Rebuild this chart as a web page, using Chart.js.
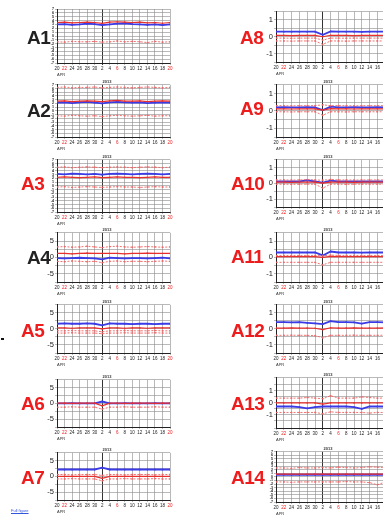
<!DOCTYPE html>
<html><head><meta charset="utf-8">
<script src="https://cdn.jsdelivr.net/npm/chart.js@4/dist/chart.umd.min.js"></script>
<style>
html,body{margin:0;padding:0;background:#fff;width:383px;height:517px;overflow:hidden;position:relative;font-family:"Liberation Sans",Arial,sans-serif}
canvas{position:absolute}
.lab{position:absolute;font-weight:bold;font-size:19px;line-height:19px;font-family:"Liberation Sans",Arial,sans-serif;letter-spacing:-0.5px}
</style></head><body>
<script>
// ---- data ----
const xTickLabels = ['20','22','24','26','28','30','2','4','6','8','10','12','14','16','18','20'];
const redTickIdx = [1, 8, 15];
const monthBreakIdx = 6;
const panelNames = ['A1','A2','A3','A4','A5','A6','A7','A8','A9','A10','A11','A12','A13','A14'];
const panelTitle = '2013';
const axisMonth = 'APR';

const a1Blue   = [3.0,3.1,2.9,3.0,3.2,3.1,2.8,3.0,3.2,3.3,3.1,3.0,2.9,3.0,2.8,3.0];
const a1Red    = [3.5,3.6,3.4,3.5,3.6,3.5,3.3,3.6,3.7,3.6,3.5,3.6,3.4,3.5,3.3,3.5];
const a1PinkLo = [-1.5,-1.6,-1.4,-1.5,-1.5,-1.4,-1.6,-1.5,-1.3,-1.5,-1.4,-1.5,-1.7,-1.4,-1.6,-1.5];

const a2Blue   = [2.2,2.3,2.1,2.3,2.4,2.2,2.0,2.3,2.4,2.3,2.2,2.3,2.1,2.2,2.3,2.2];
const a2Red    = [2.6,2.7,2.5,2.6,2.7,2.6,2.5,2.7,2.8,2.6,2.6,2.7,2.5,2.6,2.7,2.6];
const a2PinkHi = [6.3,6.4,6.2,6.3,6.3,6.4,6.2,6.3,6.4,6.3,6.2,6.3,6.4,6.3,6.2,6.3];
const a2PinkLo = [-1.3,-1.4,-1.2,-1.3,-1.4,-1.3,-1.5,-1.3,-1.2,-1.3,-1.4,-1.3,-1.2,-1.4,-1.3,-1.3];

const a3Blue   = [3.2,3.1,3.3,3.2,3.1,3.2,3.0,3.2,3.3,3.2,3.1,3.2,3.3,3.2,3.1,3.2];
const a3Red    = [2.3,2.4,2.3,2.2,2.3,2.4,2.2,2.3,2.4,2.3,2.3,2.2,2.3,2.4,2.3,2.3];
const a3PinkHi = [5.0,5.1,4.9,5.0,5.1,5.0,4.9,5.0,5.1,5.0,4.9,5.0,5.1,5.0,4.9,5.0];
const a3PinkLo = [-0.3,-0.2,-0.4,-0.3,-0.2,-0.3,-0.4,-0.3,-0.2,-0.3,-0.3,-0.4,-0.3,-0.2,-0.3,-0.3];

const a4Blue   = [-0.2,-0.3,-0.2,-0.1,-0.2,-0.3,-0.6,-0.1,-0.2,-0.3,-0.2,-0.2,-0.3,-0.2,-0.1,-0.3];
const a4Red    = [1.2,1.2,1.1,1.2,1.3,1.2,1.2,1.2,1.2,1.1,1.2,1.2,1.3,1.2,1.2,1.2];
const a4PinkHi = [3.2,3.3,3.1,3.2,3.4,3.2,3.0,3.3,3.4,3.2,3.1,3.2,3.3,3.2,3.1,3.2];
const a4PinkLo = [-1.2,-1.3,-1.1,-1.2,-1.3,-1.2,-1.6,-1.2,-1.1,-1.3,-1.2,-1.2,-1.3,-1.2,-1.1,-1.2];

const a5Blue   = [1.6,1.7,1.6,1.6,1.7,1.6,1.1,1.7,1.6,1.6,1.5,1.6,1.6,1.5,1.6,1.6];
const a5Red    = [0.3,0.3,0.2,0.3,0.3,0.3,0.0,0.3,0.3,0.2,0.3,0.3,0.2,0.3,0.3,0.3];
const a5PinkMid= [-0.6,-0.6,-0.5,-0.6,-0.6,-0.6,-0.9,-0.6,-0.6,-0.5,-0.6,-0.6,-0.6,-0.5,-0.6,-0.6];
const a5PinkLo = [-1.3,-1.3,-1.2,-1.3,-1.3,-1.3,-1.5,-1.3,-1.3,-1.2,-1.3,-1.3,-1.3,-1.2,-1.3,-1.3];

const a6Blue   = [0.0,0.0,0.1,0.0,0.0,0.0,0.6,0.0,0.0,0.1,0.0,0.0,0.0,0.1,0.0,0.0];
const a6Red    = [0.1,0.1,0.0,0.1,0.1,0.1,-0.8,0.1,0.1,0.0,0.1,0.1,0.1,0.0,0.1,0.1];
const a6PinkLo = [-1.2,-1.2,-1.1,-1.2,-1.2,-1.2,-1.8,-1.2,-1.2,-1.1,-1.2,-1.2,-1.2,-1.1,-1.2,-1.2];

const a7Blue   = [2.2,2.2,2.2,2.2,2.2,2.2,2.8,2.2,2.2,2.2,2.2,2.2,2.2,2.2,2.2,2.2];
const a7Red    = [0.0,0.0,0.0,0.0,0.0,0.0,-0.6,0.0,0.0,0.0,0.0,0.0,0.0,0.0,0.0,0.0];
const a7PinkHi = [0.6,0.6,0.5,0.6,0.6,0.6,0.3,0.6,0.6,0.5,0.6,0.6,0.6,0.5,0.6,0.6];
const a7PinkLo = [-0.8,-0.8,-0.7,-0.8,-0.8,-0.8,-1.4,-0.8,-0.8,-0.7,-0.8,-0.8,-0.8,-0.7,-0.8,-0.8];

const a8Blue   = [0.3,0.3,0.3,0.3,0.3,0.3,0.12,0.32,0.3,0.3,0.3,0.29,0.3,0.3,0.3,0.3];
const a8Red    = [0.08,0.08,0.07,0.08,0.08,0.08,0.0,0.09,0.08,0.08,0.07,0.08,0.08,0.08,0.08,0.08];
const a8PinkHi = [-0.08,-0.08,-0.09,-0.08,-0.08,-0.08,-0.2,-0.08,-0.08,-0.09,-0.08,-0.08,-0.08,-0.08,-0.08,-0.08];
const a8PinkLo = [-0.25,-0.25,-0.26,-0.25,-0.25,-0.25,-0.45,-0.25,-0.25,-0.26,-0.25,-0.25,-0.25,-0.25,-0.25,-0.25];

const a9Blue   = [0.2,0.21,0.2,0.2,0.21,0.2,0.05,0.24,0.2,0.2,0.21,0.2,0.2,0.21,0.2,0.2];
const a9Red    = [0.12,0.12,0.11,0.12,0.12,0.12,0.05,0.13,0.12,0.12,0.11,0.12,0.12,0.12,0.12,0.12];
const a9PinkHi = [0.3,0.3,0.29,0.3,0.3,0.3,0.35,0.3,0.3,0.3,0.29,0.3,0.3,0.3,0.3,0.3];
const a9PinkLo = [-0.05,-0.05,-0.06,-0.05,-0.05,-0.05,-0.25,-0.05,-0.05,-0.06,-0.05,-0.05,-0.05,-0.05,-0.05,-0.05];

const a10Blue   = [0.12,0.13,0.12,0.12,0.2,0.12,0.05,0.18,0.12,0.12,0.13,0.12,0.12,0.12,0.12,0.12];
const a10Red    = [0.08,0.08,0.07,0.08,0.08,0.08,0.02,0.08,0.08,0.08,0.07,0.08,0.08,0.08,0.08,0.08];
const a10PinkHi = [0.22,0.22,0.21,0.22,0.24,0.22,0.2,0.25,0.22,0.22,0.21,0.22,0.22,0.22,0.22,0.22];
const a10PinkLo = [-0.05,-0.05,-0.06,-0.05,-0.05,-0.05,-0.3,-0.05,-0.05,-0.06,-0.05,-0.05,-0.05,-0.05,-0.05,-0.05];

const a11Blue   = [0.3,0.3,0.3,0.3,0.3,0.3,0.12,0.36,0.3,0.3,0.3,0.29,0.3,0.3,0.3,0.3];
const a11Red    = [0.05,0.05,0.05,0.05,0.05,0.05,0.0,0.06,0.05,0.05,0.05,0.05,0.05,0.05,0.05,0.05];
const a11PinkHi = [0.12,0.12,0.12,0.12,0.12,0.12,0.1,0.14,0.12,0.12,0.12,0.12,0.12,0.12,0.12,0.12];
const a11PinkLo = [-0.3,-0.3,-0.3,-0.3,-0.3,-0.3,-0.45,-0.3,-0.3,-0.3,-0.3,-0.3,-0.3,-0.3,-0.3,-0.3];

const a12Blue   = [0.42,0.42,0.41,0.42,0.38,0.35,0.3,0.48,0.42,0.42,0.41,0.33,0.42,0.42,0.41,0.42];
const a12Red    = [0.05,0.05,0.06,0.05,0.05,0.04,-0.05,0.07,0.05,0.05,0.06,0.05,0.05,0.05,0.06,0.05];
const a12PinkLo = [-0.4,-0.4,-0.39,-0.4,-0.4,-0.42,-0.55,-0.4,-0.4,-0.4,-0.39,-0.4,-0.4,-0.4,-0.39,-0.4];

const a13Blue   = [-0.3,-0.3,-0.3,-0.35,-0.45,-0.35,-0.3,-0.3,-0.3,-0.3,-0.35,-0.5,-0.3,-0.3,-0.3,-0.3];
const a13Red    = [0.0,0.0,0.0,0.0,0.0,0.0,-0.1,0.0,0.0,0.0,0.0,0.0,0.0,0.0,0.0,0.0];
const a13PinkHi = [0.4,0.4,0.4,0.4,0.45,0.4,0.35,0.6,0.4,0.4,0.4,0.5,0.45,0.4,0.4,0.4];
const a13PinkLo = [-0.8,-0.8,-0.8,-0.8,-0.8,-0.8,-0.9,-0.75,-0.8,-0.8,-0.8,-0.8,-0.85,-0.8,-0.8,-0.8];

const a14Blue   = [0.6,0.6,0.6,0.6,0.6,0.6,0.6,0.6,0.6,0.6,0.6,0.6,0.6,0.6,0.6,0.6];
const a14Red    = [0.8,0.8,0.8,0.8,0.8,0.8,0.8,0.8,0.8,0.8,0.8,0.8,0.8,0.8,0.8,0.8];
const a14PinkHi = [2.5,2.5,2.4,2.6,2.5,2.5,2.6,2.5,2.7,2.6,2.5,2.6,2.8,2.7,2.6,2.6];
const a14PinkLo = [-1.4,-1.4,-1.5,-1.4,-1.4,-1.4,-1.4,-1.4,-1.4,-1.3,-1.4,-1.4,-1.6,-2.2,-1.4,-1.4];

const panelSeries = [
  {blue:a1Blue, red:a1Red, pink:[a1PinkLo]},
  {blue:a2Blue, red:a2Red, pink:[a2PinkHi,a2PinkLo]},
  {blue:a3Blue, red:a3Red, pink:[a3PinkHi,a3PinkLo]},
  {blue:a4Blue, red:a4Red, pink:[a4PinkHi,a4PinkLo]},
  {blue:a5Blue, red:a5Red, pink:[a5PinkMid,a5PinkLo]},
  {blue:a6Blue, red:a6Red, pink:[a6PinkLo]},
  {blue:a7Blue, red:a7Red, pink:[a7PinkHi,a7PinkLo]},
  {blue:a8Blue, red:a8Red, pink:[a8PinkHi,a8PinkLo]},
  {blue:a9Blue, red:a9Red, pink:[a9PinkHi,a9PinkLo]},
  {blue:a10Blue, red:a10Red, pink:[a10PinkHi,a10PinkLo]},
  {blue:a11Blue, red:a11Red, pink:[a11PinkHi,a11PinkLo]},
  {blue:a12Blue, red:a12Red, pink:[a12PinkLo]},
  {blue:a13Blue, red:a13Red, pink:[a13PinkHi,a13PinkLo]},
  {blue:a14Blue, red:a14Red, pink:[a14PinkHi,a14PinkLo]}
];

// y-axis kinds
const yDense = {min:-7, max:7, step:1, dense:true};
const yFive  = {min:-7.5, max:7.5, step:2.5, dense:false};
const yOne   = {min:-1.5, max:1.5, step:0.5, dense:false};
const yTwo   = {min:-2.1, max:2.1, step:0.5, dense:false};
const panelY = [yDense,yDense,yDense,yFive,yFive,yFive,yFive,yOne,yOne,yOne,yOne,yOne,yTwo,yDense];

// ---- layout (styles / positions) ----
const layout = [
  {l:57,r:172,t:12,b:63, lx:27, ly:37, lc:'#222'},
  {l:57,r:172,t:85,b:137, lx:27, ly:110, lc:'#222'},
  {l:57,r:172,t:160,b:212, lx:21, ly:183, lc:'#ee1c1c'},
  {l:57,r:172,t:233,b:282, lx:27, ly:257, lc:'#222'},
  {l:57,r:172,t:305,b:353, lx:21, ly:330, lc:'#ee1c1c'},
  {l:57,r:172,t:380,b:427, lx:21, ly:403, lc:'#ee1c1c'},
  {l:57,r:172,t:453,b:500, lx:21, ly:477, lc:'#ee1c1c'},
  {l:276,r:395,t:13,b:62, lx:240, ly:37, lc:'#ee1c1c'},
  {l:276,r:395,t:85,b:137, lx:240, ly:108, lc:'#ee1c1c'},
  {l:276,r:395,t:160,b:207, lx:231, ly:183, lc:'#ee1c1c'},
  {l:276,r:395,t:233,b:282, lx:231, ly:256, lc:'#ee1c1c'},
  {l:276,r:395,t:305,b:353, lx:231, ly:330, lc:'#ee1c1c'},
  {l:276,r:395,t:378,b:428, lx:231, ly:403, lc:'#ee1c1c'},
  {l:276,r:395,t:452,b:502, lx:231, ly:477, lc:'#ee1c1c'}
];
const YW = 15, XH = 14, TH = 7;

function makePanel(i){
  const L = layout[i], S = panelSeries[i], Y = panelY[i];
  const c = document.createElement('canvas');
  const w = (L.r - L.l) + YW + 2, h = (L.b - L.t) + XH + TH;
  c.width = w; c.height = h;
  c.style.left = (L.l - YW) + 'px'; c.style.top = (L.t - TH) + 'px';
  c.style.width = w + 'px'; c.style.height = h + 'px';
  document.body.appendChild(c);
  const pts = arr => arr.map((v,k)=>({x:k,y:v}));
  const datasets = [];
  S.pink.forEach(p => datasets.push({data:pts(p), borderColor:'rgba(240,100,100,0.9)', borderWidth:1, borderDash:[2,1.5], pointRadius:0.9, pointBackgroundColor:'rgba(240,100,100,0.85)', pointBorderWidth:0}));
  datasets.push({data:pts(S.red), borderColor:'#e8302f', borderWidth:1.2, pointRadius:0.8, pointBackgroundColor:'#e8302f', pointBorderWidth:0});
  datasets.push({data:pts(S.blue), borderColor:'#3b3be6', borderWidth:1.8, pointRadius:0.9, pointBackgroundColor:'#3b3be6', pointBorderWidth:0});
  new Chart(c, {
    type:'line',
    data:{datasets},
    options:{
      responsive:false, animation:false, devicePixelRatio:1,
      layout:{padding:{top:0,right:2,left:0,bottom:0}},
      plugins:{legend:{display:false}, tooltip:{enabled:false},
        title:{display:i!==0 && i!==7, text:panelTitle, font:{size:4, family:'Liberation Sans'}, color:'#333', padding:{top:1,bottom:1}}},
      scales:{
        x:{type:'linear', min:0, max:xTickLabels.length-1,
          afterFit:s=>{s.height = XH;},
          border:{color:'#222', width:1},
          grid:{color:ctx=> ctx.index===monthBreakIdx ? '#333' : '#8a8a8a', lineWidth:ctx=> ctx.index===monthBreakIdx ? 1 : 0.6, tickLength:2},
          ticks:{stepSize:1, autoSkip:false, maxRotation:0, padding:1,
            font:{size:4.5, family:'Liberation Sans'},
            color:ctx=> redTickIdx.includes(ctx.index) ? '#f02020' : '#222',
            callback:(v,idx)=> xTickLabels[idx] ?? ''},
          title:{display:true, text:axisMonth, align:'start', font:{size:4, family:'Liberation Sans'}, color:'#333', padding:{top:1,bottom:0}}
        },
        y:{type:'linear', min:Y.min, max:Y.max,
          afterFit:s=>{s.width = YW;},
          border:{color:'#222', width:1},
          grid:{color:'#8a8a8a', lineWidth:0.6, tickLength:2},
          ticks:{stepSize:Y.step, autoSkip:false, padding:1,
            font:{size:Y.dense?3.6:7.5, family:'Liberation Sans', weight:Y.dense?'bold':'normal'},
            color:'#222',
            callback:v=>{
              if (Y.dense) return Number.isInteger(v) ? String(v) : '';
              if (Y.step===2.5) return (Math.abs(v%5)<1e-9) ? String(v) : '';
              return Number.isInteger(v) ? String(v) : '';
            }}
        }
      }
    }
  });
  const lab = document.createElement('div');
  lab.className = 'lab';
  lab.textContent = panelNames[i];
  lab.style.left = L.lx + 'px';
  lab.style.top = (L.ly - 9) + 'px';
  lab.style.color = L.lc;
  document.body.appendChild(lab);
}
for (let i=0;i<14;i++) makePanel(i);

// small marks from the page margin
const dot = document.createElement('div');
dot.style.cssText='position:absolute;left:1px;top:338px;width:3px;height:2px;background:#111';
document.body.appendChild(dot);
const link = document.createElement('div');
link.textContent='Full figure';
link.style.cssText='position:absolute;left:11px;top:508px;font-size:4px;color:#3355dd;text-decoration:underline;font-family:Liberation Sans';
document.body.appendChild(link);
</script>
</body></html>
